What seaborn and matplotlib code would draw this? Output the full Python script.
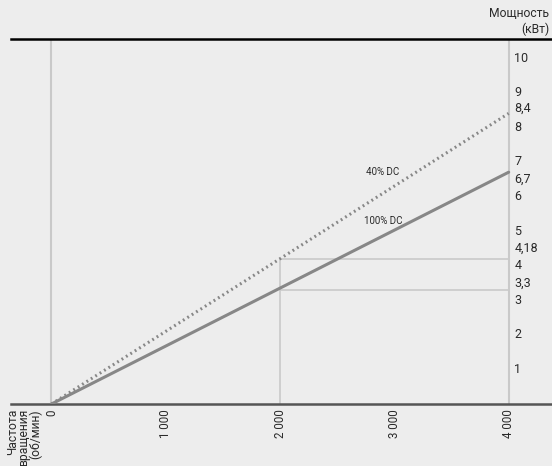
import numpy as np
import pandas as pd
import matplotlib
matplotlib.use("Agg")
import matplotlib.pyplot as plt
import seaborn as sns

# data
rpm = [0, 4000]
power_100 = [0, 6.7]
power_40 = [0, 8.4]
x_ticks = [0, 1000, 2000, 3000, 4000]
x_labels = ["0", "1 000", "2 000", "3 000", "4 000"]
y_ticks = [1, 2, 3, 4, 5, 6, 7, 8, 9, 10]
mark_rpm = 2000
mark_levels = [4.18, 3.3]
special_vals = [8.4, 6.7, 4.18, 3.3]
special_labels = ["8,4", "6,7", "4,18", "3,3"]
special_dy = [3.6, -5.0, 8.0, 5.0]  # label nudges in points

bg = "#ededed"
txt = "#2a2a2a"
sns.set_theme(style="white", rc={"axes.facecolor": bg, "figure.facecolor": bg})
plt.rcParams['font.family'] = ['Roboto', 'DejaVu Sans']

df = pd.DataFrame({"rpm": rpm * 2,
                   "kw": power_100 + power_40,
                   "dc": ["100% DC"] * 2 + ["40% DC"] * 2})

fig = plt.figure(figsize=(5.52, 4.66), dpi=100)
ax = fig.add_axes([11 / 552, 1 - 404 / 466, 1 - 11 / 552, (404 - 39) / 466])

ymax = 10.55
# guide lines
for xv in (0, 4000):
    ax.plot([xv, xv], [0, ymax], color="#c9c9c9", lw=1.5, zorder=1)
ax.plot([mark_rpm, mark_rpm], [0, mark_levels[0]], color="#c9c9c9", lw=1.2, zorder=1)
for lv in mark_levels:
    ax.plot([mark_rpm, 4000], [lv, lv], color="#c9c9c9", lw=1.2, zorder=1)

sns.lineplot(data=df, x="rpm", y="kw", style="dc", ax=ax, color="#878787",
             linewidth=2.2, dashes={"100% DC": "", "40% DC": (0.6, 1.1)},
             legend=False, zorder=3)

ax.text(2900, 6.7, "40% DC", fontsize=7, color=txt, ha="center", va="center")
ax.text(2900, 5.3, "100% DC", fontsize=7, color=txt, ha="center", va="center")

ax.set_xlim(-354, 4379)
ax.set_ylim(0, ymax)
ax.set_xticks(x_ticks, x_labels, rotation=90, fontsize=8.3, color=txt)
ax.tick_params(axis="x", length=0, pad=4)
ax.set_yticks([])
ax.set_xlabel("")
ax.set_ylabel("")

for v in y_ticks:
    ax.annotate(str(v), xy=(4000, v), xytext=(4, 0), textcoords="offset points",
                fontsize=9, color=txt, ha="left", va="center")
for v, lab, dy in zip(special_vals, special_labels, special_dy):
    ax.annotate(lab, xy=(4000, v), xytext=(4, dy), textcoords="offset points",
                fontsize=9, color=txt, ha="left", va="center")

for s in ("left", "right"):
    ax.spines[s].set_visible(False)
ax.spines["top"].set_color("black")
ax.spines["top"].set_linewidth(1.8)
ax.spines["bottom"].set_color("#555555")
ax.spines["bottom"].set_linewidth(1.8)

fig.text(549 / 552, 1 - 7 / 466, "Мощность\n(кВт)", fontsize=8.7, color=txt,
         ha="right", va="top", multialignment="right", linespacing=1.25)
fig.text(24 / 552, 1 - 409 / 466, "Частота\nвращения\n(об/мин)", fontsize=8.7,
         color=txt, rotation=90, ha="center", va="top",
         multialignment="right", linespacing=0.85)

fig.savefig("out.png", dpi=100, facecolor=bg)
